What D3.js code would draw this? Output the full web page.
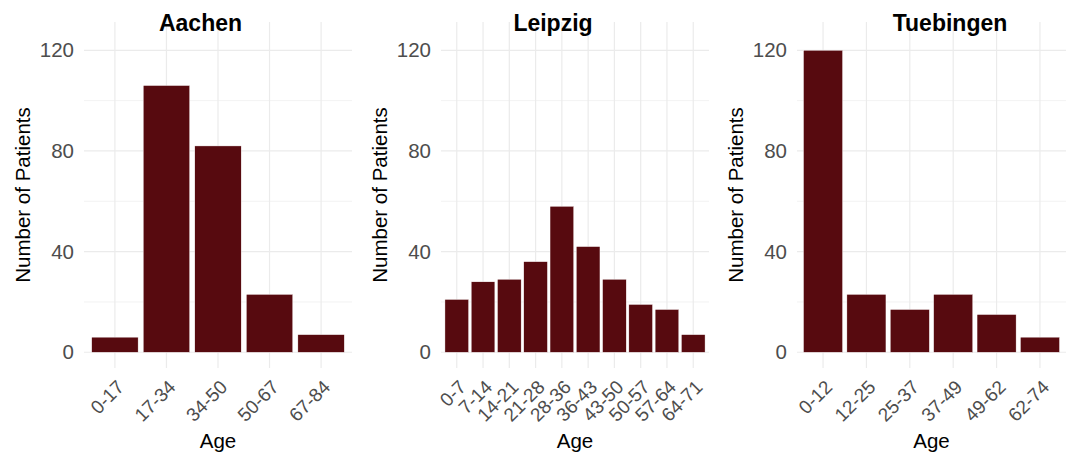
<!DOCTYPE html>
<html>
<head>
	<meta charset="utf-8">
	<title>Age distribution</title>
	<script src="https://d3js.org/d3.v7.min.js"></script>
	<style>
		body { margin: 0; background: #fff; }
		svg { display: block; font-family: "Liberation Sans", Arial, sans-serif; }
		.grid line { stroke: #ebebeb; }
		.tick-label { fill: #4d4d4d; font-size: 19px; }
		.ytick { font-size: 20.5px; }
		.axis-title { fill: #000; font-size: 20.5px; }
		.panel-title { fill: #000; font-size: 23px; font-weight: bold; }
	</style>
</head>
<body>
	<svg width="1072" height="456"></svg>
<script type="text/javascript">

	// data
	var sites = ["Aachen", "Leipzig", "Tuebingen"];

	var aachenAges = ["0-17", "17-34", "34-50", "50-67", "67-84"];
	var aachenCounts = [6, 106, 82, 23, 7];

	var leipzigAges = ["0-7", "7-14", "14-21", "21-28", "28-36", "36-43", "43-50", "50-57", "57-64", "64-71"];
	var leipzigCounts = [21, 28, 29, 36, 58, 42, 29, 19, 17, 7];

	var tuebingenAges = ["0-12", "12-25", "25-37", "37-49", "49-62", "62-74"];
	var tuebingenCounts = [120, 23, 17, 23, 15, 6];

	var yTicks = [0, 40, 80, 120];
	var yMinor = [20, 60, 100];
	var yLimit = [0, 125];

	// layout
	var svg = d3.select("svg");
	var panelX = [[84, 352], [441, 709], [797, 1066]];
	var titleX = [200.5, 553, 950];
	var panelTop = 22, panelBottom = 368;
	var barColor = "#570a0f";

	var ages = [aachenAges, leipzigAges, tuebingenAges];
	var counts = [aachenCounts, leipzigCounts, tuebingenCounts];

	// ggplot style 5% expansion
	var span = yLimit[1] - yLimit[0];
	var y = d3.scaleLinear()
		.domain([yLimit[0] - 0.05 * span, yLimit[1] + 0.05 * span])
		.range([panelBottom, panelTop]);

	sites.forEach(function (site, i) {
		var x0 = panelX[i][0], x1 = panelX[i][1];
		var data = ages[i].map(function (a, j) { return {age: a, n: counts[i][j]}; });

		var x = d3.scaleBand()
			.domain(ages[i])
			.range([x0, x1])
			.paddingInner(0.1)
			.paddingOuter(0.15);

		var g = svg.append("g");

		// grid
		var grid = g.append("g").attr("class", "grid");
		grid.selectAll(".minor").data(yMinor).enter().append("line")
			.attr("x1", x0).attr("x2", x1)
			.attr("y1", function (d) { return y(d); })
			.attr("y2", function (d) { return y(d); })
			.attr("stroke-width", 0.6);
		grid.selectAll(".major").data(yTicks).enter().append("line")
			.attr("x1", x0).attr("x2", x1)
			.attr("y1", function (d) { return y(d); })
			.attr("y2", function (d) { return y(d); })
			.attr("stroke-width", 1.2);
		grid.selectAll(".vert").data(ages[i]).enter().append("line")
			.attr("x1", function (d) { return x(d) + x.bandwidth() / 2; })
			.attr("x2", function (d) { return x(d) + x.bandwidth() / 2; })
			.attr("y1", panelTop).attr("y2", panelBottom)
			.attr("stroke-width", 1.2);

		// bars
		g.append("g").selectAll("rect").data(data).enter().append("rect")
			.attr("x", function (d) { return x(d.age); })
			.attr("y", function (d) { return y(d.n); })
			.attr("width", x.bandwidth())
			.attr("height", function (d) { return y(0) - y(d.n); })
			.attr("fill", barColor)
			.attr("stroke", "#fff")
			.attr("stroke-width", 0.4);

		// y tick labels
		g.selectAll(".ylab").data(yTicks).enter().append("text")
			.attr("class", "tick-label ytick")
			.attr("x", x0 - 10)
			.attr("y", function (d) { return y(d); })
			.attr("dy", "0.35em")
			.attr("text-anchor", "end")
			.text(function (d) { return d; });

		// x tick labels, rotated
		g.selectAll(".xlab").data(ages[i]).enter().append("text")
			.attr("class", "tick-label")
			.attr("text-anchor", "end")
			.attr("transform", function (d) {
				return "translate(" + (x(d) + x.bandwidth() / 2 + 3) + "," + (panelBottom + 13) + ") rotate(-45)";
			})
			.attr("dy", "0.55em")
			.text(function (d) { return d; });

		// axis titles
		g.append("text")
			.attr("class", "axis-title")
			.attr("text-anchor", "middle")
			.attr("x", (x0 + x1) / 2)
			.attr("y", 448)
			.text("Age");

		g.append("text")
			.attr("class", "axis-title")
			.attr("text-anchor", "middle")
			.attr("transform", "translate(" + (x0 - 61) + "," + ((panelTop + panelBottom) / 2) + ") rotate(-90)")
			.attr("dy", "0.35em")
			.text("Number of Patients");

		g.append("text")
			.attr("class", "panel-title")
			.attr("text-anchor", "middle")
			.attr("x", titleX[i])
			.attr("y", 31)
			.text(site);
	});

</script>
</body>
</html>
